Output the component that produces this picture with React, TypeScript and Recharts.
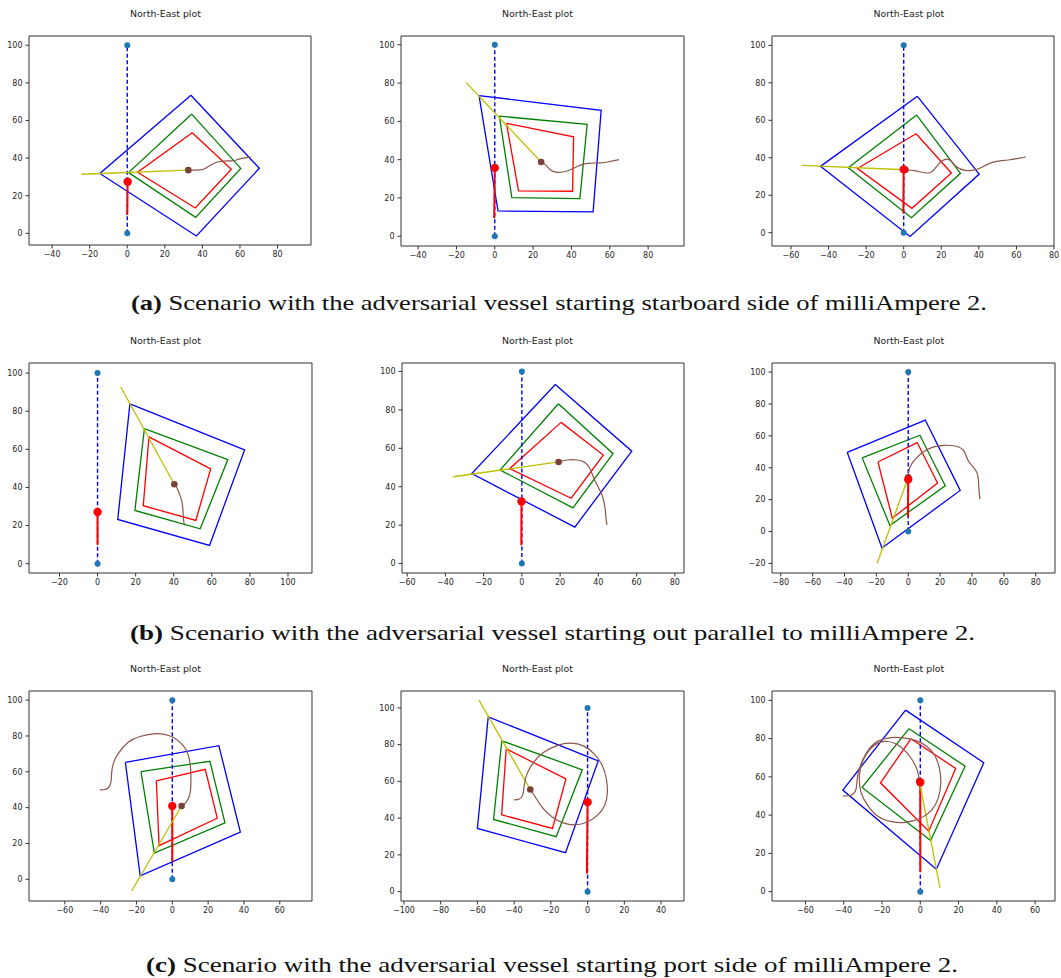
import React from "react";
import { ComposedChart, Line, Scatter, XAxis, YAxis, ReferenceArea } from "recharts";

type Pt = [number, number];

// planned route, shared by every run
const route: Pt[] = [[0, 0], [0, 100]];

const ticks20 = [0, 20, 40, 60, 80, 100];
const ticks20neg = [-20, 0, 20, 40, 60, 80, 100];

// ---- (a) adversary starts starboard ----
const a1Blue: Pt[] = [[33.9, 73.4], [70.3, 34.6], [36.8, -1.4], [-14.6, 31.8]];
const a1Green: Pt[] = [[34.3, 63.4], [60.4, 34.5], [36.4, 8.5], [0.7, 32.3]];
const a1Red: Pt[] = [[34.6, 53.5], [55.4, 34.1], [36.2, 13.5], [5.5, 32.5]];
const a1Bearing: Pt[] = [[-24.3, 31.4], [32.5, 33.6]];
const a1Track: Pt[] = [[65.7, 40.5], [60.0, 39.6], [56.5, 38.7], [49.4, 38.2], [44.9, 36.6], [41.4, 34.5], [38.7, 33.7], [32.5, 33.6]];
const a1Own: Pt[] = [[0, 9.8], [0.1, 18], [0.2, 27.4]];

const a2Blue: Pt[] = [[-8.2, 73.5], [55.5, 65.8], [51.3, 12.7], [1.7, 13.2]];
const a2Green: Pt[] = [[2.4, 62.7], [48.2, 58.5], [44.4, 19.7], [8.9, 20.2]];
const a2Red: Pt[] = [[6.1, 59.0], [41.1, 51.9], [40.6, 23.5], [12.4, 23.7]];
const a2Bearing: Pt[] = [[-15.0, 80.4], [24.2, 38.8]];
const a2Track: Pt[] = [[64.8, 40.0], [60.4, 39.1], [55.2, 38.3], [48.2, 38.1], [43.0, 36.4], [37.8, 34.1], [32.6, 33.4], [29.1, 34.6], [26.5, 37.3], [24.2, 38.8]];
const a2Own: Pt[] = [[-0.3, 9.4], [0, 35.7]];

const a3Blue: Pt[] = [[7.3, 72.8], [40.2, 31.3], [3.4, -2.0], [-44.3, 35.4]];
const a3Green: Pt[] = [[6.9, 62.8], [30.2, 31.7], [4.1, 8.0], [-29.5, 34.7]];
const a3Red: Pt[] = [[6.6, 52.8], [25.4, 31.9], [4.4, 13.0], [-24.6, 34.3]];
const a3Bearing: Pt[] = [[-54.3, 35.9], [0.9, 33.6]];
const a3Track: Pt[] = [[65.1, 40.4], [61.0, 39.7], [55.7, 38.8], [48.6, 37.9], [43.2, 35.8], [37.9, 33.5], [32.6, 33.3], [28.1, 35.2], [25.1, 38.4], [22.8, 39.3], [20.1, 38.1], [17.4, 35.2], [14.8, 32.4], [11.2, 32.0], [5.9, 33.1], [0.9, 33.6]];
const a3Own: Pt[] = [[-0.2, 10.3], [0, 33.8]];

// ---- (b) adversary starts out parallel ----
const b1Blue: Pt[] = [[17.0, 83.9], [77.2, 59.7], [58.8, 9.6], [10.6, 23.2]];
const b1Green: Pt[] = [[24.6, 70.9], [68.4, 54.6], [53.9, 18.3], [19.6, 27.9]];
const b1Red: Pt[] = [[27.0, 66.5], [59.4, 49.7], [51.6, 22.7], [24.0, 30.4]];
const b1Bearing: Pt[] = [[12.2, 92.7], [40.3, 41.7]];
const b1Track: Pt[] = [[45.6, 20.1], [45.1, 23.6], [44.9, 27.0], [44.5, 31.4], [43.6, 34.9], [41.9, 39.3], [40.3, 41.7]];
const b1Own: Pt[] = [[0, 9.9], [0, 27.1]];

const b2Blue: Pt[] = [[17.5, 93.2], [57.5, 58.5], [27.7, 19.0], [-26.2, 46.8]];
const b2Green: Pt[] = [[19.1, 83.2], [47.7, 57.2], [26.7, 29.0], [-11.4, 48.7]];
const b2Red: Pt[] = [[20.5, 73.5], [42.6, 56.5], [25.8, 34.0], [-6.4, 49.4]];
const b2Bearing: Pt[] = [[-35.9, 45.2], [19.2, 52.9]];
const b2Track: Pt[] = [[44.5, 20.1], [44.0, 23.6], [43.7, 27.1], [42.5, 34.0], [40.2, 39.3], [37.6, 44.5], [35.9, 48.9], [33.3, 52.4], [28.9, 53.9], [23.7, 53.9], [19.2, 52.9]];
const b2Own: Pt[] = [[-0.3, 9.6], [-0.2, 32.3]];

const b3Blue: Pt[] = [[-38.3, 49.7], [10.7, 69.9], [32.6, 25.8], [-16.5, -10.3]];
const b3Green: Pt[] = [[-28.9, 46.2], [7.3, 60.4], [23.2, 28.7], [-11.5, 3.8]];
const b3Red: Pt[] = [[-19.0, 43.6], [5.6, 55.8], [18.4, 30.4], [-10.0, 8.4]];
const b3Bearing: Pt[] = [[-19.5, -19.9], [0, 34.0]];
const b3Track: Pt[] = [[45.0, 20.3], [44.4, 26.0], [44.1, 31.3], [43.3, 36.5], [40.6, 40.7], [37.4, 44.9], [34.9, 50.6], [30.1, 53.5], [22.8, 54.1], [15.5, 52.9], [9.2, 49.7], [4.0, 44.9], [0.8, 39.6], [0, 34.0]];
const b3Own: Pt[] = [[-0.2, 9.2], [0, 32.7]];

// ---- (c) adversary starts port side ----
const c1Blue: Pt[] = [[-26.2, 65.3], [26.0, 74.6], [38.0, 26.3], [-17.9, 1.9]];
const c1Green: Pt[] = [[-17.5, 60.1], [21.0, 65.9], [29.4, 31.5], [-10.0, 14.6]];
const c1Red: Pt[] = [[-8.9, 55.0], [18.4, 61.4], [25.1, 34.1], [-7.4, 18.8]];
const c1Bearing: Pt[] = [[-22.7, -6.5], [5.2, 40.9]];
const c1Track: Pt[] = [[-40.4, 50.0], [-38.5, 50.0], [-35.7, 51.1], [-34.2, 54.5], [-33.9, 59.1], [-32.9, 64.7], [-30.1, 70.3], [-24.6, 76.5], [-18.0, 79.7], [-10.6, 81.2], [-5.0, 81.0], [0.6, 79.1], [5.8, 75.0], [8.9, 69.4], [10.2, 61.9], [10.4, 54.5], [9.9, 47.9], [8.0, 43.3], [5.2, 40.9]];
const c1Own: Pt[] = [[0, 9.7], [0, 40.9]];

const c2Blue: Pt[] = [[-54.1, 95.1], [5.8, 71.2], [-12.0, 21.2], [-60.0, 34.4]];
const c2Green: Pt[] = [[-46.7, 82.1], [-2.9, 66.3], [-17.1, 29.9], [-51.2, 39.3]];
const c2Red: Pt[] = [[-44.3, 77.7], [-11.8, 61.4], [-19.1, 34.4], [-46.8, 41.8]];
const c2Bearing: Pt[] = [[-59.1, 104.2], [-31.2, 55.6]];
const c2Track: Pt[] = [[-40.3, 50.0], [-37.6, 50.2], [-35.4, 52.4], [-34.5, 57.8], [-33.0, 64.1], [-29.3, 70.5], [-23.9, 75.9], [-16.6, 79.5], [-9.3, 80.8], [-2.0, 79.2], [3.5, 75.0], [8.0, 68.7], [10.2, 61.4], [10.8, 54.2], [9.3, 46.9], [5.3, 41.5], [-0.2, 37.9], [-6.6, 36.4], [-12.9, 37.3], [-19.3, 40.6], [-24.8, 46.0], [-28.4, 51.4], [-31.2, 55.6]];
const c2Own: Pt[] = [[-0.4, 9.8], [0, 48.7]];

const c3Blue: Pt[] = [[-7.7, 94.9], [33.2, 67.4], [8.4, 11.7], [-40.5, 53.1]];
const c3Green: Pt[] = [[-5.9, 85.2], [23.4, 65.6], [5.4, 26.7], [-30.4, 54.5]];
const c3Red: Pt[] = [[-4.9, 79.9], [18.5, 64.4], [4.4, 31.6], [-20.8, 56.9]];
const c3Bearing: Pt[] = [[10.3, 1.9], [-0.5, 57.8]];
const c3Track: Pt[] = [[-40.5, 50.0], [-36.0, 50.5], [-33.5, 54.0], [-32.5, 62.0], [-29.0, 71.0], [-24.0, 77.5], [-17.0, 80.3], [-10.0, 80.5], [-3.0, 79.2], [3.2, 76.2], [7.5, 71.3], [10.0, 64.4], [10.7, 56.5], [9.3, 48.6], [5.8, 42.5], [-0.3, 38.2], [-8.0, 36.2], [-15.0, 36.6], [-22.0, 39.3], [-27.4, 45.0], [-31.0, 52.0], [-31.8, 61.0], [-29.5, 69.5], [-24.0, 76.5], [-17.0, 78.5], [-10.0, 75.5], [-4.7, 69.6], [-1.6, 63.5], [-0.5, 57.8]];
const c3Own: Pt[] = [[0, 10.3], [0, 57.2]];

const captionTags = ["(a)", "(b)", "(c)"];
const captionTexts = [
  "Scenario with the adversarial vessel starting starboard side of milliAmpere 2.",
  "Scenario with the adversarial vessel starting out parallel to milliAmpere 2.",
  "Scenario with the adversarial vessel starting port side of milliAmpere 2.",
];

type Scene = { blue: Pt[]; green: Pt[]; red: Pt[]; bearing: Pt[]; track: Pt[]; own: Pt[] };
type PanelCfg = {
  box: { left: number; top: number; width: number; height: number };
  xDomain: [number, number];
  yDomain: [number, number];
  xTicks: number[];
  yTicks: number[];
  titleX: number;
  scene: Scene;
};

const panels: PanelCfg[] = [
  { box: { left: 29, top: 36, width: 282, height: 209 }, xDomain: [-52.3, 97.8], yDomain: [-6.2, 104.9], xTicks: [-40, -20, 0, 20, 40, 60, 80], yTicks: ticks20, titleX: 165.5,
    scene: { blue: a1Blue, green: a1Green, red: a1Red, bearing: a1Bearing, track: a1Track, own: a1Own } },
  { box: { left: 401, top: 36, width: 283, height: 210 }, xDomain: [-48.9, 98.7], yDomain: [-5.1, 104.6], xTicks: [-40, -20, 0, 20, 40, 60, 80], yTicks: ticks20, titleX: 537.5,
    scene: { blue: a2Blue, green: a2Green, red: a2Red, bearing: a2Bearing, track: a2Track, own: a2Own } },
  { box: { left: 772, top: 36, width: 282, height: 210 }, xDomain: [-70.1, 80.0], yDomain: [-7.1, 105.0], xTicks: [-60, -40, -20, 0, 20, 40, 60, 80], yTicks: ticks20, titleX: 908.8,
    scene: { blue: a3Blue, green: a3Green, red: a3Red, bearing: a3Bearing, track: a3Track, own: a3Own } },
  { box: { left: 29, top: 363, width: 283, height: 210 }, xDomain: [-36.0, 112.6], yDomain: [-4.9, 105.3], xTicks: [-20, 0, 20, 40, 60, 80, 100], yTicks: ticks20, titleX: 165.5,
    scene: { blue: b1Blue, green: b1Green, red: b1Red, bearing: b1Bearing, track: b1Track, own: b1Own } },
  { box: { left: 402, top: 363, width: 282, height: 210 }, xDomain: [-62.7, 84.8], yDomain: [-4.9, 104.4], xTicks: [-60, -40, -20, 0, 20, 40, 60, 80], yTicks: ticks20, titleX: 537.5,
    scene: { blue: b2Blue, green: b2Green, red: b2Red, bearing: b2Bearing, track: b2Track, own: b2Own } },
  { box: { left: 772, top: 363, width: 283, height: 210 }, xDomain: [-85.5, 92.1], yDomain: [-26.0, 105.7], xTicks: [-80, -60, -40, -20, 0, 20, 40, 60, 80], yTicks: ticks20neg, titleX: 908.8,
    scene: { blue: b3Blue, green: b3Green, red: b3Red, bearing: b3Bearing, track: b3Track, own: b3Own } },
  { box: { left: 29, top: 691, width: 283, height: 210 }, xDomain: [-80.0, 78.0], yDomain: [-12.1, 105.1], xTicks: [-60, -40, -20, 0, 20, 40, 60], yTicks: ticks20, titleX: 165.5,
    scene: { blue: c1Blue, green: c1Green, red: c1Red, bearing: c1Bearing, track: c1Track, own: c1Own } },
  { box: { left: 401, top: 691, width: 283, height: 210 }, xDomain: [-101.6, 52.5], yDomain: [-5.1, 109.2], xTicks: [-100, -80, -60, -40, -20, 0, 20, 40], yTicks: ticks20, titleX: 537.5,
    scene: { blue: c2Blue, green: c2Green, red: c2Red, bearing: c2Bearing, track: c2Track, own: c2Own } },
  { box: { left: 772, top: 691, width: 283, height: 210 }, xDomain: [-77.5, 70.4], yDomain: [-4.9, 104.9], xTicks: [-60, -40, -20, 0, 20, 40, 60], yTicks: ticks20, titleX: 908.8,
    scene: { blue: c3Blue, green: c3Green, red: c3Red, bearing: c3Bearing, track: c3Track, own: c3Own } },
];

const captionLayout = [
  { x: 131, y: 310, w: 856 },
  { x: 130, y: 640, w: 845 },
  { x: 146, y: 972, w: 812 },
];

const toData = (pts: Pt[]) => pts.map(([x, y]) => ({ x, y }));
const closed = (pts: Pt[]) => toData([...pts, pts[0]]);
const lastOf = (pts: Pt[]) => toData([pts[pts.length - 1]]);
const fmt = (v: number) => (v < 0 ? "\u2212" + Math.abs(v) : String(v));

const tickStyle = { fill: "#262626", fontSize: 8, fontFamily: "DejaVu Sans" };

const dotShape = (r: number, color: string) => (p: any) => (
  <circle cx={p.cx} cy={p.cy} r={r} fill={color} stroke="none" />
);

function Panel({ cfg }: { cfg: PanelCfg }) {
  const { left, top, width, height } = cfg.box;
  const padL = 45, padT = 10, padR = 10, padB = 25;
  const s = cfg.scene;
  const common = { dataKey: "y", dot: false, isAnimationActive: false, activeDot: false } as const;
  return (
    <>
      <div
        style={{
          position: "absolute", left: cfg.titleX - 60, top: top - 28.5, width: 120, textAlign: "center",
          fontFamily: "DejaVu Sans", fontSize: 9.4, lineHeight: "11px", color: "#222",
        }}
      >
        North-East plot
      </div>
      <div style={{ position: "absolute", left: left - padL, top: top - padT }}>
        <ComposedChart width={width + padL + padR} height={height + padT + padB} margin={{ top: padT, right: padR, bottom: 0, left: 0 }}>
          <XAxis type="number" dataKey="x" domain={cfg.xDomain} ticks={cfg.xTicks} allowDataOverflow interval={0}
            height={padB} tickSize={3.5} tickMargin={3} axisLine={false} tick={tickStyle} tickLine={{ stroke: "#333" }} tickFormatter={fmt} />
          <YAxis type="number" dataKey="y" domain={cfg.yDomain} ticks={cfg.yTicks} allowDataOverflow interval={0}
            width={padL} tickSize={3.5} tickMargin={3} axisLine={false} tick={tickStyle} tickLine={{ stroke: "#333" }} tickFormatter={fmt} />
          <ReferenceArea x1={cfg.xDomain[0]} x2={cfg.xDomain[1]} y1={cfg.yDomain[0]} y2={cfg.yDomain[1]} fill="none" stroke="#333" strokeWidth={1} />
          <Line {...common} data={closed(s.blue)} type="linear" stroke="#0000ff" strokeWidth={1.3} />
          <Line {...common} data={closed(s.green)} type="linear" stroke="#008000" strokeWidth={1.3} />
          <Line {...common} data={closed(s.red)} type="linear" stroke="#ff0000" strokeWidth={1.3} />
          <Line {...common} data={toData(route)} type="linear" stroke="#0000ff" strokeWidth={1.4} strokeDasharray="4 2.5" />
          <Scatter data={toData(route)} dataKey="y" isAnimationActive={false} shape={dotShape(3, "#1f77b4")} />
          <Line {...common} data={toData(s.own)} type="linear" stroke="#ff0000" strokeWidth={2} />
          <Line {...common} data={toData(s.bearing)} type="linear" stroke="#bfbf00" strokeWidth={1.3} />
          <Line {...common} data={toData(s.track)} type="natural" stroke="#8c564b" strokeWidth={1.2} />
          <Scatter data={lastOf(s.track)} dataKey="y" isAnimationActive={false} shape={dotShape(3.3, "#7b3f3a")} />
          <Scatter data={lastOf(s.own)} dataKey="y" isAnimationActive={false} shape={dotShape(4.2, "#ff0000")} />
        </ComposedChart>
      </div>
    </>
  );
}

export default function App() {
  return (
    <div style={{ position: "absolute", left: 0, top: 0, width: 1061, height: 978, background: "#fff", overflow: "hidden" }}>
      <svg width={1061} height={978} style={{ position: "absolute", left: 0, top: 0 }}>
        {captionLayout.map((c, i) => (
          <text key={i} x={c.x} y={c.y} textLength={c.w} lengthAdjust="spacingAndGlyphs"
            style={{ fontFamily: "'Liberation Serif', serif", fontSize: 22 }} fill="#111">
            <tspan fontWeight="bold">{captionTags[i]}</tspan>
            {" " + captionTexts[i]}
          </text>
        ))}
      </svg>
      {panels.map((p, i) => (
        <Panel key={i} cfg={p} />
      ))}
    </div>
  );
}
